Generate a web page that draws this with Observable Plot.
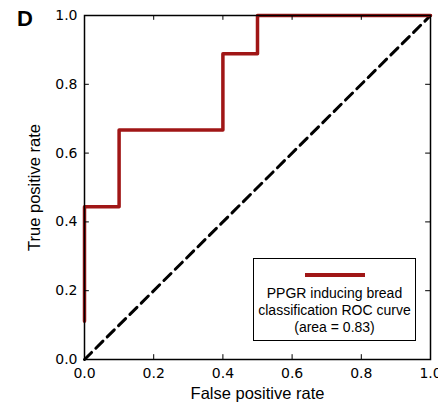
<!DOCTYPE html>
<html><head><meta charset="utf-8">
<script src="https://cdn.jsdelivr.net/npm/d3@7"></script>
<script src="https://cdn.jsdelivr.net/npm/@observablehq/plot@0.6"></script>
<style>
body{margin:0;background:#fff;}
#wrap{position:relative;width:438px;height:403px;}
#panel{position:absolute;left:17px;top:6px;font:bold 22px "Liberation Sans",Arial,sans-serif;}
#legend{position:absolute;left:253px;top:258px;width:163px;height:83px;border:1.5px solid #000;background:#fff;box-sizing:border-box;font:14px "Liberation Sans",Arial,sans-serif;text-align:center;line-height:17px;}
#legend .sw{width:60px;height:4px;background:#a01616;margin:14px auto 8px auto;}
</style></head>
<body><div id="wrap"><div id="panel">D</div><div id="legend"><div class="sw"></div>PPGR inducing bread<br>classification ROC curve<br>(area = 0.83)</div></div>
<script>
const fpr = [0, 0, 0.1, 0.1, 0.4, 0.4, 0.5, 0.5, 1.0];
const tpr = [0.111, 0.444, 0.444, 0.667, 0.667, 0.889, 0.889, 1.0, 1.0];
const chance = [0, 1];
const ticks = [0, 0.2, 0.4, 0.6, 0.8, 1.0];
const inner = [0.2, 0.4, 0.6, 0.8];
const roc = fpr.map((f, i) => ({f, t: tpr[i]}));
const red = "#a01616";
const chart = Plot.plot({
  width: 438, height: 403,
  marginLeft: 84, marginRight: 8, marginTop: 15, marginBottom: 44,
  style: {fontFamily: "DejaVu Sans, sans-serif", fontSize: "14px", background: "transparent"},
  x: {domain: [0, 1]},
  y: {domain: [0, 1]},
  marks: [
    Plot.line(chance, {x: d => d, y: d => d, stroke: "#000", strokeWidth: 3, strokeDasharray: "10,6"}),
    Plot.line(roc, {x: "f", y: "t", stroke: red, strokeWidth: 3.5, curve: "linear"}),
    Plot.ruleX(inner, {x: d => d, y1: 0, y2: 0.014, stroke: "#000", strokeWidth: 1}),
    Plot.ruleX(inner, {x: d => d, y1: 0.986, y2: 1, stroke: "#000", strokeWidth: 1}),
    Plot.ruleY(inner, {y: d => d, x1: 0, x2: 0.014, stroke: "#000", strokeWidth: 1}),
    Plot.ruleY(inner, {y: d => d, x1: 0.986, x2: 1, stroke: "#000", strokeWidth: 1}),
    Plot.frame({stroke: "#000", strokeWidth: 1.5}),
    Plot.axisX(ticks, {tickSize: 0, tickPadding: 9, tickFormat: d3.format(".1f"), label: "False positive rate", labelAnchor: "center", labelArrow: "none", labelOffset: 39, fontSize: 14}),
    Plot.axisY(ticks, {tickSize: 0, tickPadding: 7, tickFormat: d3.format(".1f"), label: "True positive rate", labelAnchor: "center", labelArrow: "none", labelOffset: 56, fontSize: 14})
  ]
});
chart.style.position = "absolute";
chart.style.left = "0"; chart.style.top = "0";
chart.querySelectorAll("[aria-label='x-axis label'] text, [aria-label='y-axis label'] text").forEach(t => {t.style.fontFamily = "Liberation Sans, Arial, sans-serif"; t.style.fontSize = "16.5px";});
const wrap = document.getElementById("wrap");
wrap.insertBefore(chart, wrap.firstChild);
</script></body></html>
